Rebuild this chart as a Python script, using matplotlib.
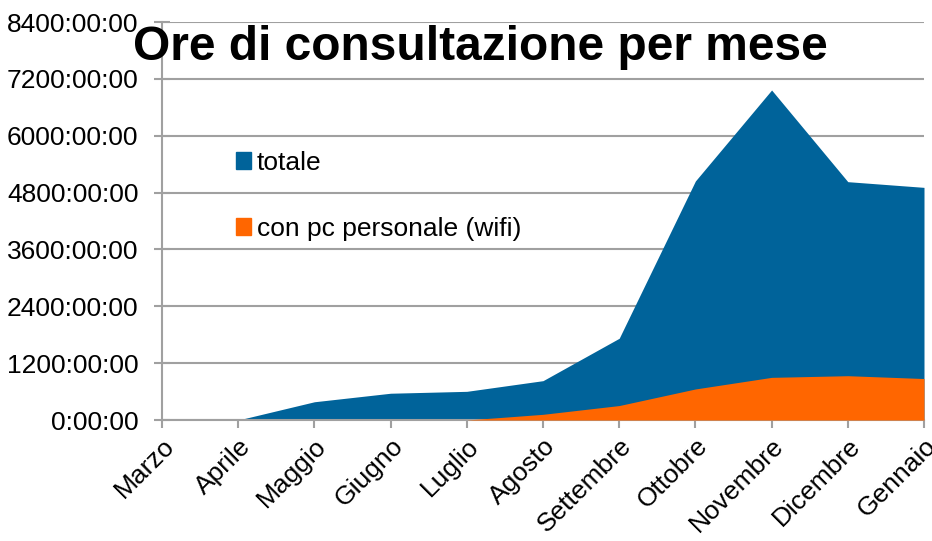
import numpy as np
import matplotlib.pyplot as plt
from matplotlib.patches import Patch
from matplotlib.ticker import FuncFormatter

plt.rcParams['font.family'] = ['Liberation Sans', 'DejaVu Sans']

# months and hours per month
mesi = ["Marzo", "Aprile", "Maggio", "Giugno", "Luglio", "Agosto",
        "Settembre", "Ottobre", "Novembre", "Dicembre", "Gennaio"]
totale = [np.nan, 0, 385, 565, 605, 830, 1725, 5045, 6965, 5030, 4910]
wifi = [np.nan, np.nan, np.nan, np.nan, 0, 120, 305, 655, 900, 935, 875]

blu = '#00639a'
arancio = '#ff6600'
grigio = '#a0a0a0'

fig = plt.figure(figsize=(9.32, 5.41), dpi=100)
ax = fig.add_axes([162/932, 1 - 420/541, (924 - 162)/932, (420 - 22)/541])

x = np.arange(len(mesi))
t = np.array(totale, dtype=float)
w = np.array(wifi, dtype=float)
ax.fill_between(x, 0, t, where=~np.isnan(t), color=blu, linewidth=0, zorder=2)
ax.fill_between(x, 0, w, where=~np.isnan(w), color=arancio, linewidth=0, zorder=3)

ax.set_xlim(0, len(mesi) - 1)
ax.set_ylim(0, 8400)
ax.set_yticks(np.arange(0, 8401, 1200))
ax.yaxis.set_major_formatter(FuncFormatter(lambda v, p: f"{int(v)}:00:00"))
ax.set_xticks(x)
ax.set_xticklabels(mesi, rotation=45, ha='right', rotation_mode='anchor')

ax.grid(axis='y', color=grigio, linewidth=1.5, zorder=1)
ax.set_axisbelow(True)
for s in ['top', 'right']:
    ax.spines[s].set_visible(False)
for s in ['left', 'bottom']:
    ax.spines[s].set_color(grigio)
    ax.spines[s].set_linewidth(1.5)
ax.tick_params(axis='y', direction='inout', length=12, width=1.5, color=grigio,
               labelsize=19, pad=11)
ax.tick_params(axis='x', direction='out', length=6, width=1.5, color=grigio,
               labelsize=19, pad=4)

fig.text(480/932, 1 - 60/541, "Ore di consultazione per mese", fontsize=34.5,
         fontweight='bold', ha='center', va='baseline')

handles = [Patch(color=blu, label='totale'),
           Patch(color=arancio, label='con pc personale (wifi)')]
ax.legend(handles=handles, loc='upper left', bbox_to_anchor=(225/932, 1 - 140/541),
          bbox_transform=fig.transFigure, frameon=False, fontsize=19,
          handlelength=0.6, handleheight=0.6, handletextpad=0.2, labelspacing=1.6,
          borderaxespad=0)

fig.savefig('out.png', dpi=100)
